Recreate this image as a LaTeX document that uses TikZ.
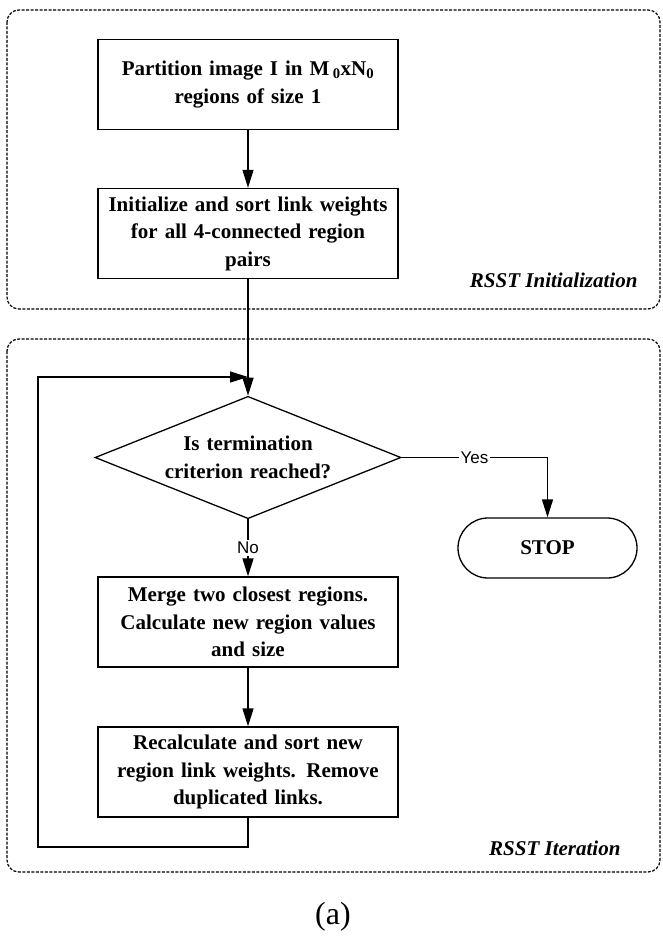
\documentclass[tikz,border=0pt]{standalone}
\usepackage{fontspec}
\setmainfont{Liberation Serif}
\newfontfamily\labelfont{Liberation Sans}
\usetikzlibrary{shapes.geometric,arrows.meta}

\begin{document}
\begin{tikzpicture}[x=1pt,y=-1pt,
    procbox/.style={draw, line width=1.3pt, minimum width=300pt, minimum height=90pt,
        text width=290pt, align=center, inner sep=0pt,
        font=\fontsize{21}{27.5}\selectfont\bfseries},
    decbox/.style={draw, diamond, line width=1.3pt, aspect=2.5, inner sep=0pt,
        minimum width=298pt, minimum height=119pt, text width=200pt, align=center,
        font=\fontsize{21}{27.5}\selectfont\bfseries},
    endbox/.style={draw, rounded corners=30pt, line width=1.3pt, minimum width=179pt,
        minimum height=60pt, font=\fontsize{21}{26}\selectfont\bfseries},
    region/.style={draw, line width=1.2pt, dash pattern=on 3pt off 1.5pt, rounded corners=12pt},
    flow/.style={line width=1.3pt, -{Triangle[length=18pt,width=11pt]}},
    lbl/.style={fill=white, inner sep=2pt, font=\labelfont\fontsize{17}{20}\selectfont},
    tag/.style={anchor=base east, font=\fontsize{21}{26}\selectfont\bfseries\itshape}]
  \useasboundingbox (0,0) rectangle (662,939);

  % the two dashed stages
  \draw[region] (7,10) rectangle (660,309);
  \draw[region] (7,339) rectangle (660,872);
  \node[tag] (inittag) at (641,287) {RSST Initialization};
  \node[tag] (itertag) at (624,855) {RSST Iteration};

  % flowchart
  \node[procbox] (partition) at (248,84.5) {Partition image I in M\,\textsubscript{0}xN\textsubscript{0}\\regions of size 1};
  \node[procbox] (initlinks) at (248,233.5) {Initialize and sort link weights\\for all 4-connected region\\pairs};
  \node[decbox] (criterion) at (248,457.5) {Is termination\\criterion reached?};
  \node[endbox] (stop) at (547.5,548) {STOP};
  \node[procbox] (merge) at (248,622) {Merge two closest regions.\\Calculate new region values\\and size};
  \node[procbox] (recalc) at (248,772) {Recalculate and sort new\\region link weights. Remove\\duplicated links.};
  \coordinate (join) at (248,377);

  \draw[flow] (partition) -- (initlinks);
  \draw[flow] (initlinks) -- (criterion);
  \draw[flow] (criterion.east) -| node[lbl, pos=0.25] {Yes} (stop.north);
  \draw[flow] (criterion) -- node[lbl] {No} (merge);
  \draw[flow] (merge) -- (recalc);
  \draw[flow] (recalc.south) -- (248,847) -- (38,847) -- (38,377) -- (join);

  \node (caption) at (333,917) {\fontsize{32}{36}\selectfont(a)};
\end{tikzpicture}
\end{document}
